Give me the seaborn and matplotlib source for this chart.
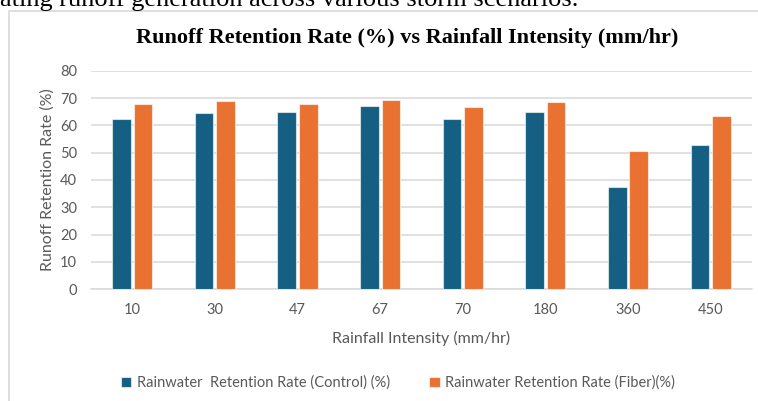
import matplotlib
matplotlib.use('Agg')
import matplotlib.pyplot as plt
from matplotlib.patches import Rectangle
import numpy as np
import pandas as pd
import seaborn as sb

intensity = ['10', '30', '47', '67', '70', '180', '360', '450']
control = [62.5, 64.4, 65.0, 67.2, 62.2, 65.0, 37.4, 52.7]
fiber = [68.0, 68.8, 68.0, 69.3, 66.6, 68.4, 50.6, 63.4]
series_names = ['Rainwater  Retention Rate (Control) (%)',
                'Rainwater Retention Rate (Fiber)(%)']
y_ticks = [0, 10, 20, 30, 40, 50, 60, 70, 80]

df = pd.DataFrame({
    'intensity': intensity * 2,
    'rate': control + fiber,
    'series': [series_names[0]] * len(control) + [series_names[1]] * len(fiber),
})

sb.set_style('white')
plt.rcParams['font.family'] = ['Lato', 'DejaVu Sans']

grey = '#595959'
fig = plt.figure(figsize=(7.58, 4.01), dpi=100)
ax = fig.add_axes([0.120, 0.279, 0.872, 0.5444])

sb.barplot(data=df, x='intensity', y='rate', hue='series', order=intensity,
           hue_order=series_names, palette=['#156082', '#E97132'], saturation=1,
           width=0.52, gap=0.13, edgecolor=(1, 1, 1, 0.6), linewidth=0.8,
           ax=ax, zorder=3)

ax.set_ylim(0, 80)
ax.set_yticks(y_ticks)
ax.set_xlim(-0.5, len(intensity) - 0.5)
ax.yaxis.grid(True, color='#d9d9d9', linewidth=1.1, zorder=0)
ax.set_axisbelow(True)
for s in ['top', 'right', 'left']:
    ax.spines[s].set_visible(False)
ax.spines['bottom'].set_color('#d9d9d9')
ax.spines['bottom'].set_linewidth(1.1)
ax.tick_params(axis='both', length=0, labelsize=10.5, labelcolor=grey)
ax.tick_params(axis='y', pad=10)
ax.tick_params(axis='x', pad=10)

ax.set_xlabel('Rainfall Intensity (mm/hr)', fontsize=11.5, color=grey, labelpad=10)
ax.set_ylabel('Runoff Retention Rate (%)', fontsize=11.5, color=grey, labelpad=4)

fig.text(0.537, 1 - 38 / 401, 'Runoff Retention Rate (%) vs Rainfall Intensity (mm/hr)',
         ha='center', va='center', fontsize=16, fontweight='bold',
         family='Liberation Serif', color='black')

# page text above the chart, cut off at the top
fig.text(0.0, 1 - 6 / 401, 'ating runoff generation across various storm scenarios.',
         ha='left', va='baseline', fontsize=19, family='Liberation Serif', color='black')

# chart border
fig.patches.append(Rectangle((9 / 758, -0.1), 1.2, 1 - 11 / 401 + 0.1,
                             transform=fig.transFigure, fill=False,
                             edgecolor='#d9d9d9', linewidth=1.2))

handles, labels = ax.get_legend_handles_labels()
ax.legend(handles, labels, loc='center', bbox_to_anchor=(398 / 758, 1 - 383 / 401),
          bbox_transform=fig.transFigure, ncol=2, frameon=False, fontsize=10.5,
          labelcolor=grey, handlelength=0.7, handleheight=0.7, handletextpad=0.4,
          columnspacing=2.7)

fig.savefig('out.png', dpi=100)
